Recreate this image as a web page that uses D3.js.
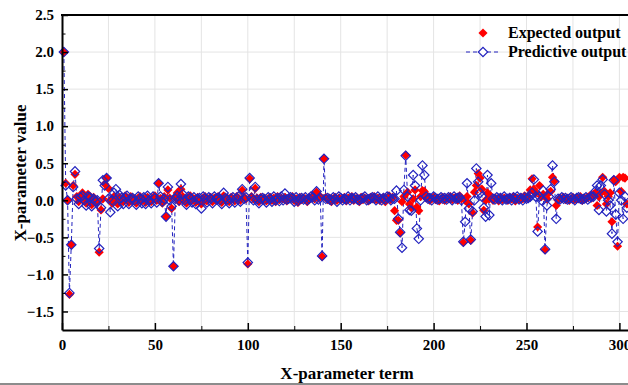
<!DOCTYPE html>
<html lang="en">
<head>
  <meta charset="UTF-8">
  <title>X-parameter</title>
  <style>
    body { margin: 0; background: #fff; }
    svg { display: block; }
  </style>
</head>
<body>
  <script src="https://d3js.org/d3.v7.min.js"></script>
  <script>
    // expected output, terms 1..304
    const expected = [
      2.0, 0.23, 0.0, -1.27, -0.6, 0.2, 0.35, 0.05, -0.02, 0.06,
      0.1, 0.03, -0.04, 0.08, 0.02, -0.06, 0.04, 0.01, -0.03, -0.7,
      -0.13, 0.02, 0.22, 0.3, 0.16, 0.0, -0.04, 0.05, 0.02, -0.05,
      0.04, 0.01, -0.02, 0.06, 0.03, -0.03, 0.05, 0.0, 0.02, -0.04,
      0.03, 0.05, -0.01, 0.02, -0.03, 0.04, 0.01, -0.02, 0.03, 0.06,
      0.0, 0.23, 0.02, -0.04, 0.05, -0.22, 0.14, 0.03, -0.11, -0.89,
      0.04, 0.1, -0.02, 0.15, 0.05, 0.02, -0.04, 0.03, 0.06, 0.0,
      0.02, -0.03, 0.04, 0.01, -0.05, 0.03, 0.05, -0.01, 0.02, 0.04,
      -0.02, 0.03, 0.0, 0.05, 0.02, -0.03, 0.06, 0.01, 0.03, -0.02,
      0.04, 0.02, -0.01, 0.05, 0.03, 0.0, 0.135, 0.04, 0.02, -0.86,
      0.29, 0.05, 0.02, 0.16, 0.03, -0.02, 0.04, 0.01, 0.03, -0.01,
      0.02, 0.04, 0.0, 0.03, -0.02, 0.05, 0.01, 0.03, 0.02, 0.04,
      -0.01, 0.03, 0.02, 0.05, 0.0, 0.02, -0.03, 0.04, 0.01, 0.03,
      0.02, -0.02, 0.04, 0.03, 0.06, 0.02, 0.11, 0.03, 0.05, -0.76,
      0.56, 0.04, 0.01, 0.03, -0.02, 0.02, 0.04, 0.0, 0.03, 0.01,
      0.02, 0.04, -0.01, 0.03, 0.02, 0.05, 0.0, 0.02, 0.03, -0.02,
      0.04, 0.01, 0.03, 0.02, -0.01, 0.04, 0.02, 0.05, 0.01, 0.03,
      0.0, 0.02, 0.04, -0.02, 0.03, 0.06, 0.01, 0.04, -0.14, -0.27,
      -0.27, -0.44, -0.02, 0.05, 0.61, 0.11, -0.05, -0.1, 0.02, 0.14,
      -0.09, -0.14, 0.05, 0.13, 0.12, 0.03, 0.05, 0.0, 0.02, 0.04,
      0.01, 0.03, -0.01, 0.02, 0.04, 0.0, 0.03, 0.02, 0.05, 0.01,
      0.03, 0.04, 0.0, 0.06, 0.02, -0.57, 0.0, 0.05, -0.05, -0.54,
      -0.17, 0.11, 0.2, 0.36, 0.3, 0.15, -0.135, 0.0, 0.1, 0.02,
      0.05, 0.0, 0.03, 0.02, -0.01, 0.04, 0.01, 0.03, 0.02, 0.0,
      0.04, 0.02, 0.05, -0.01, 0.03, 0.01, 0.04, 0.02, 0.06, 0.03,
      0.05, 0.14, 0.29, 0.15, 0.1, -0.36, 0.2, 0.05, 0.08, -0.67,
      0.02, 0.1, 0.12, 0.31, 0.26, -0.07, 0.0, 0.03, 0.02, 0.04,
      0.01, 0.03, 0.0, 0.02, 0.04, 0.01, 0.03, 0.02, 0.05, 0.0,
      0.03, 0.02, 0.04, 0.06, 0.03, 0.08, 0.1, -0.07, 0.05, 0.1,
      0.31, 0.12, -0.05, 0.05, 0.1, -0.29, 0.28, 0.25, -0.62, 0.31,
      0.12, 0.31, 0.3, -0.05
    ];
    // predictive output, terms 1..304
    const predictive = [
      2.0, 0.2, 0.0, -1.25, -0.6, 0.18, 0.39, 0.02, -0.05, 0.04,
      0.06, 0.0, -0.07, 0.05, 0.04, -0.08, 0.02, -0.02, 0.0, -0.65,
      -0.1, 0.27, 0.2, 0.3, 0.02, -0.16, 0.0, 0.1, 0.15, -0.08,
      0.07, 0.03, -0.05, 0.04, 0.06, -0.05, 0.02, 0.03, 0.0, -0.06,
      0.05, 0.02, -0.04, 0.04, -0.05, 0.06, 0.0, -0.04, 0.05, 0.03,
      -0.03, 0.23, 0.05, -0.02, 0.02, -0.22, 0.18, 0.0, -0.08, -0.89,
      0.02, 0.06, 0.0, 0.22, 0.08, 0.0, -0.06, 0.05, 0.03, -0.03,
      0.04, -0.05, 0.02, 0.03, -0.11, 0.05, 0.03, -0.03, 0.04, 0.02,
      -0.04, 0.05, 0.02, 0.03, 0.0, -0.05, 0.1, 0.03, 0.01, -0.04,
      0.02, 0.04, -0.03, 0.03, 0.05, -0.02, 0.15, 0.02, 0.04, -0.84,
      0.3, 0.03, 0.0, 0.18, 0.01, -0.04, 0.02, 0.03, 0.01, -0.03,
      0.04, 0.02, -0.02, 0.05, 0.0, 0.03, -0.01, 0.05, 0.0, 0.09,
      0.01, 0.02, 0.04, 0.03, -0.02, 0.04, -0.01, 0.02, 0.03, 0.01,
      0.04, 0.0, 0.02, 0.05, 0.04, 0.0, 0.12, 0.01, 0.03, -0.75,
      0.56, 0.02, 0.03, 0.01, 0.0, 0.04, 0.02, -0.02, 0.05, 0.03,
      0.0, 0.02, 0.01, 0.05, 0.0, 0.03, 0.02, 0.04, 0.01, 0.0,
      0.02, 0.03, 0.05, 0.0, 0.01, 0.02, 0.04, 0.03, 0.0, 0.05,
      0.02, 0.0, 0.03, 0.01, 0.05, 0.04, 0.0, 0.02, 0.02, 0.13,
      -0.25, -0.43, -0.64, 0.14, 0.6, 0.05, -0.13, -0.14, 0.34, 0.2,
      -0.38, -0.52, 0.0, 0.47, 0.34, 0.05, 0.02, 0.03, 0.0, 0.05,
      0.03, 0.01, 0.02, 0.04, 0.02, 0.03, 0.01, 0.04, 0.03, 0.0,
      0.05, 0.02, 0.03, 0.04, 0.0, -0.56, -0.29, 0.23, -0.11, -0.53,
      -0.15, 0.0, 0.43, 0.25, 0.1, 0.05, -0.1, -0.22, 0.34, -0.2,
      0.23, 0.02, 0.01, 0.04, 0.02, 0.03, 0.0, 0.05, 0.01, 0.02,
      0.03, 0.0, 0.04, 0.02, 0.05, 0.01, 0.03, 0.0, 0.04, 0.02,
      0.03, 0.05, 0.1, 0.28, 0.05, -0.42, 0.05, 0.0, 0.13, -0.66,
      -0.07, 0.05, 0.15, 0.47, 0.25, -0.25, 0.02, 0.01, 0.04, 0.02,
      0.03, 0.01, 0.02, 0.04, 0.02, 0.0, 0.03, 0.04, 0.02, 0.01,
      0.02, 0.04, 0.01, 0.03, 0.05, 0.05, 0.12, 0.2, -0.13, 0.2,
      0.28, 0.08, -0.15, 0.0, -0.07, -0.45, 0.27, -0.19, -0.56, 0.1,
      0.0, -0.25, 0.05, -0.1
    ];
    const xTicks = [0, 50, 100, 150, 200, 250, 300];
    const yTicks = [-1.5, -1.0, -0.5, 0.0, 0.5, 1.0, 1.5, 2.0, 2.5];

    const width = 628, height = 385;
    const margin = { left: 62, top: 15, bottom: 330 };
    const red = '#ff0000', blue = '#2323bf';
    const font = '"Liberation Serif", "Times New Roman", serif';

    let svg = d3.select('body').append('svg')
      .attr('width', width).attr('height', height)
      .style('font-family', font);

    // scales (plot runs past the right edge of the picture)
    let x = d3.scaleLinear().domain([0, 330]).range([margin.left, margin.left + 330 * 1.858]);
    let y = d3.scaleLinear().domain([-1.75, 2.5]).range([margin.bottom, margin.top]);

    // grid
    let xGrid = d3.range(25, 330, 25);
    svg.append('g').selectAll('line').data(xGrid).join('line')
      .attr('x1', d => x(d)).attr('x2', d => x(d))
      .attr('y1', margin.top).attr('y2', margin.bottom)
      .attr('stroke', '#e4e4e4').attr('stroke-width', 1);
    svg.append('g').selectAll('line').data(yTicks.slice(0, -1)).join('line')
      .attr('x1', margin.left).attr('x2', width)
      .attr('y1', d => y(d)).attr('y2', d => y(d))
      .attr('stroke', '#e4e4e4').attr('stroke-width', 1);

    // predictive dashed line
    let terms = d3.range(1, predictive.length + 1);
    svg.append('path').datum(predictive)
      .attr('d', d3.line().x((d, i) => x(terms[i])).y(d => y(d)))
      .attr('fill', 'none')
      .attr('stroke', blue)
      .attr('stroke-width', 1)
      .attr('stroke-dasharray', '4,3');

    // markers
    const diamond = s => d3.symbol().type(d3.symbolSquare).size(s)();
    svg.append('g').selectAll('path').data(expected).join('path')
      .attr('d', diamond(42))
      .attr('transform', (d, i) => `translate(${x(i + 1)},${y(d)}) rotate(45)`)
      .attr('fill', red);
    svg.append('g').selectAll('path').data(predictive).join('path')
      .attr('d', diamond(44))
      .attr('transform', (d, i) => `translate(${x(i + 1)},${y(d)}) rotate(45)`)
      .attr('fill', 'none')
      .attr('stroke', blue)
      .attr('stroke-width', 1.2);

    // axes
    let xAxis = svg.append('g').attr('transform', `translate(0,${margin.bottom})`)
      .call(d3.axisBottom(x).tickValues(xTicks).tickSizeInner(-7).tickSizeOuter(0).tickPadding(9).tickFormat(d3.format('d')));
    svg.append('g').attr('transform', `translate(0,${margin.bottom})`)
      .call(d3.axisBottom(x).tickValues(d3.range(25, 330, 50)).tickSizeInner(-4).tickSizeOuter(0).tickFormat(''))
      .call(g => g.select('.domain').remove());
    let yAxis = svg.append('g').attr('transform', `translate(${margin.left},0)`)
      .call(d3.axisLeft(y).tickValues(yTicks).tickSizeInner(-6).tickSizeOuter(0).tickPadding(8).tickFormat(d3.format('.1f')));
    svg.append('g').attr('transform', `translate(${margin.left},0)`)
      .call(d3.axisLeft(y).tickValues(d3.range(-1.25, 2.5, 0.5)).tickSizeInner(-3.5).tickSizeOuter(0).tickFormat(''))
      .call(g => g.select('.domain').remove());

    [xAxis, yAxis].forEach(g => {
      g.select('.domain').attr('stroke', '#000').attr('stroke-width', 2);
      g.selectAll('.tick line').attr('stroke', '#000').attr('stroke-width', 1.5);
      g.selectAll('text').attr('font-size', 15).attr('font-weight', 'bold')
        .attr('font-family', font).attr('fill', '#000');
    });

    // top frame
    svg.append('line').attr('x1', margin.left - 1).attr('x2', width)
      .attr('y1', margin.top).attr('y2', margin.top)
      .attr('stroke', '#000').attr('stroke-width', 2);

    // axis titles
    svg.append('text').attr('x', 347).attr('y', 379)
      .attr('text-anchor', 'middle').attr('font-size', 17).attr('font-weight', 'bold')
      .text('X-parameter term');
    svg.append('text').attr('transform', 'translate(26,173) rotate(-90)')
      .attr('text-anchor', 'middle').attr('font-size', 17).attr('font-weight', 'bold')
      .text('X-parameter value');

    // legend
    let legend = svg.append('g').attr('transform', 'translate(483,0)');
    legend.append('path').attr('d', diamond(42))
      .attr('transform', 'translate(0,33) rotate(45)').attr('fill', red);
    legend.append('line').attr('x1', -17).attr('x2', 17).attr('y1', 52).attr('y2', 52)
      .attr('stroke', blue).attr('stroke-width', 1).attr('stroke-dasharray', '4,3');
    legend.append('path').attr('d', diamond(44))
      .attr('transform', 'translate(0,52) rotate(45)')
      .attr('fill', '#fff').attr('stroke', blue).attr('stroke-width', 1.2);
    legend.append('text').attr('x', 25).attr('y', 38)
      .attr('font-size', 16).attr('font-weight', 'bold').text('Expected output');
    legend.append('text').attr('x', 25).attr('y', 57)
      .attr('font-size', 16).attr('font-weight', 'bold').text('Predictive output');

    // bottom strip seen in the picture
    svg.append('rect').attr('x', 0).attr('y', 383).attr('width', width).attr('height', 2)
      .attr('fill', '#8c8c8c');
  </script>
</body>
</html>
